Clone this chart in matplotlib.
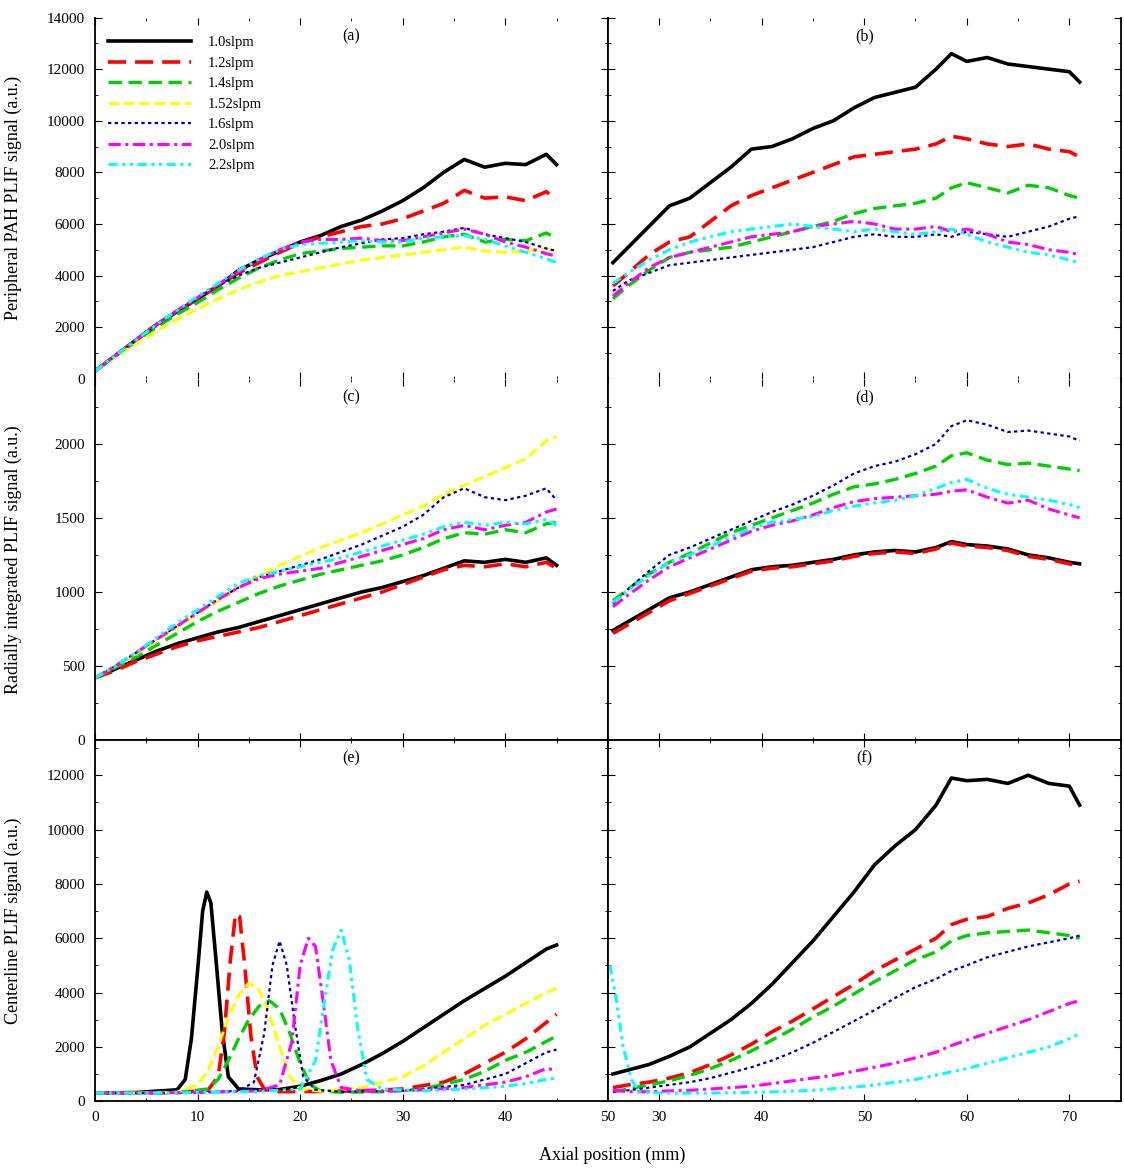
import matplotlib
matplotlib.use("Agg")
import matplotlib.pyplot as plt
from matplotlib.ticker import MultipleLocator

plt.rcParams['font.family'] = ['Liberation Serif', 'DejaVu Serif']

labels = ['1.0slpm', '1.2slpm', '1.4slpm', '1.52slpm', '1.6slpm', '2.0slpm', '2.2slpm']
colors = ['black', '#ff0000', '#00d000', '#ffff00', '#0000b0', '#ff00ff', '#00ffff']
styles = [dict(lw=2.6, ls='-'),
          dict(lw=2.6, ls=(0, (5, 2.5))),
          dict(lw=2.4, ls=(0, (4, 2))),
          dict(lw=2.2, ls=(0, (3.5, 1.5))),
          dict(lw=1.6, ls=(0, (1.5, 1.5))),
          dict(lw=2.2, ls=(0, (4, 1.5, 1, 1.5))),
          dict(lw=2.2, ls=(0, (3, 1.5, 1, 1.5, 1, 1.5)))]

# left column (0-45 mm) and right column (25-71 mm) positions
x_left = [0, 2, 4, 6, 8, 10, 12, 14, 16, 18, 20, 22, 24, 26, 28, 30, 32, 34, 36, 38, 40, 42, 44, 45]
x_right = [25.5, 27, 29, 31, 33, 35, 37, 39, 41, 43, 45, 47, 49, 51, 53, 55, 57, 58.5, 60, 62, 64, 66, 68, 70, 71]

# (a)
a_vals = [
    [300, 900, 1500, 2100, 2600, 3100, 3600, 4200, 4600, 4950, 5300, 5550, 5900, 6150, 6500, 6900, 7400, 8000, 8500, 8200, 8350, 8300, 8700, 8300],
    [300, 900, 1500, 2100, 2600, 3100, 3600, 4100, 4500, 4900, 5250, 5500, 5700, 5900, 6000, 6200, 6500, 6800, 7300, 7000, 7050, 6900, 7250, 6950],
    [300, 880, 1450, 2000, 2500, 2950, 3450, 3900, 4300, 4600, 4850, 4950, 5050, 5100, 5150, 5150, 5300, 5500, 5600, 5300, 5400, 5350, 5650, 5450],
    [300, 850, 1350, 1850, 2300, 2700, 3100, 3450, 3750, 4000, 4150, 4300, 4450, 4600, 4700, 4800, 4900, 5000, 5100, 4950, 4900, 4950, 5050, 4900],
    [300, 880, 1480, 2050, 2600, 3100, 3600, 4000, 4300, 4500, 4700, 4900, 5100, 5250, 5400, 5450, 5600, 5700, 5850, 5600, 5450, 5300, 5050, 4950],
    [300, 900, 1500, 2100, 2650, 3150, 3650, 4150, 4600, 5000, 5300, 5400, 5400, 5450, 5350, 5350, 5500, 5650, 5800, 5600, 5300, 5100, 4850, 4750],
    [300, 900, 1500, 2100, 2650, 3200, 3700, 4200, 4650, 5000, 5200, 5250, 5300, 5350, 5300, 5300, 5450, 5500, 5550, 5400, 5150, 4900, 4650, 4500],
]
# (b)
b_vals = [
    [4500, 5100, 5900, 6700, 7000, 7600, 8200, 8900, 9000, 9300, 9700, 10000, 10500, 10900, 11100, 11300, 12000, 12600, 12300, 12450, 12200, 12100, 12000, 11900, 11500],
    [3600, 4100, 4800, 5300, 5500, 6100, 6700, 7100, 7400, 7700, 8000, 8300, 8600, 8700, 8800, 8900, 9100, 9400, 9300, 9100, 9000, 9100, 8900, 8800, 8600],
    [3100, 3600, 4200, 4700, 4900, 5000, 5100, 5300, 5500, 5700, 5900, 6100, 6400, 6600, 6700, 6800, 7000, 7400, 7600, 7400, 7200, 7500, 7400, 7100, 7000],
    None,
    [3400, 3800, 4100, 4400, 4500, 4600, 4700, 4800, 4900, 5000, 5100, 5300, 5500, 5600, 5500, 5500, 5600, 5500, 5700, 5600, 5500, 5700, 5900, 6200, 6300],
    [3200, 3700, 4300, 4700, 4900, 5100, 5300, 5500, 5600, 5700, 5900, 6000, 6100, 6000, 5800, 5800, 5900, 5700, 5800, 5600, 5300, 5200, 5000, 4900, 4800],
    [3700, 4100, 4600, 5000, 5300, 5500, 5700, 5800, 5900, 6000, 5900, 5800, 5700, 5800, 5700, 5600, 5700, 5800, 5600, 5300, 5100, 4900, 4800, 4600, 4500],
]
# (c)
c_vals = [
    [420, 480, 540, 600, 650, 690, 730, 760, 800, 840, 880, 920, 960, 1000, 1030, 1070, 1110, 1160, 1210, 1200, 1220, 1200, 1230, 1180],
    [420, 470, 530, 580, 630, 670, 700, 730, 760, 800, 840, 880, 920, 960, 1000, 1050, 1100, 1150, 1180, 1170, 1190, 1170, 1200, 1160],
    [420, 490, 560, 640, 720, 800, 870, 930, 990, 1040, 1080, 1120, 1150, 1180, 1210, 1250, 1300, 1360, 1400, 1390, 1420, 1400, 1460, 1470],
    [420, 500, 580, 670, 760, 850, 940, 1030, 1110, 1180, 1240, 1300, 1350, 1400, 1460, 1520, 1580, 1660, 1720, 1780, 1840, 1900, 2020, 2050],
    [420, 500, 590, 680, 770, 860, 950, 1030, 1100, 1140, 1180, 1220, 1270, 1320, 1380, 1440, 1520, 1640, 1700, 1640, 1620, 1650, 1700, 1620],
    [420, 500, 590, 680, 770, 860, 950, 1030, 1090, 1120, 1140, 1160, 1200, 1240, 1280, 1320, 1360, 1420, 1450, 1420, 1450, 1470, 1540, 1560],
    [420, 500, 590, 690, 790, 880, 970, 1060, 1110, 1140, 1170, 1200, 1230, 1270, 1310, 1350, 1390, 1440, 1470, 1450, 1470, 1460, 1490, 1450],
]
# (d)
d_vals = [
    [740, 800, 880, 960, 1000, 1050, 1100, 1150, 1170, 1180, 1200, 1220, 1250, 1270, 1280, 1270, 1300, 1340, 1320, 1310, 1290, 1250, 1230, 1200, 1190],
    [720, 780, 860, 940, 990, 1040, 1090, 1140, 1160, 1170, 1190, 1210, 1240, 1260, 1270, 1260, 1290, 1330, 1310, 1300, 1280, 1240, 1220, 1190, 1170],
    [940, 1020, 1120, 1200, 1260, 1330, 1400, 1450, 1500, 1550, 1600, 1660, 1710, 1730, 1760, 1800, 1850, 1920, 1940, 1890, 1860, 1870, 1850, 1830, 1820],
    None,
    [920, 1020, 1140, 1250, 1300, 1360, 1420, 1480, 1540, 1590, 1650, 1720, 1800, 1850, 1880, 1930, 2000, 2120, 2160, 2130, 2080, 2090, 2070, 2050, 2020],
    [900, 980, 1080, 1170, 1230, 1290, 1350, 1410, 1450, 1480, 1520, 1570, 1610, 1630, 1640, 1650, 1660, 1680, 1690, 1640, 1600, 1620, 1560, 1520, 1500],
    [930, 1010, 1110, 1200, 1250, 1310, 1370, 1430, 1470, 1490, 1510, 1550, 1580, 1600, 1620, 1650, 1700, 1740, 1760, 1700, 1660, 1640, 1620, 1590, 1570],
]
# (e) centerline, each series with its own axial positions
e_x = [
    [0, 4, 8, 8.8, 9.4, 10, 10.5, 10.9, 11.3, 11.8, 12.4, 13, 14, 16, 18, 20, 22, 24, 26, 28, 30, 32, 34, 36, 38, 40, 42, 44, 45],
    [0, 4, 8, 11, 12, 12.6, 13.2, 13.7, 14.1, 14.6, 15.2, 15.8, 16.5, 18, 22, 26, 30, 34, 36, 38, 40, 42, 44, 45],
    [0, 4, 8, 11, 12, 13, 14, 15, 16, 17, 18, 19, 20, 21, 22, 24, 28, 32, 36, 38, 40, 42, 44, 45],
    [0, 4, 8, 10, 11, 12, 13, 14, 15, 16, 17, 18, 19, 20, 22, 26, 30, 32, 34, 36, 38, 40, 42, 44, 45],
    [0, 4, 10, 14, 15.5, 16.5, 17.3, 18, 18.7, 19.5, 20.3, 21.5, 24, 30, 36, 40, 42, 44, 45],
    [0, 4, 10, 16, 18, 19.2, 20, 20.8, 21.5, 22.2, 23, 24, 26, 30, 36, 40, 42, 44, 45],
    [0, 4, 10, 16, 20, 21.5, 22.5, 23.2, 24, 24.8, 25.6, 26.5, 28, 32, 36, 40, 42, 44, 45],
]
e_vals = [
    [300, 320, 420, 800, 2300, 4800, 7000, 7700, 7300, 5200, 2600, 900, 450, 420, 430, 550, 760, 1000, 1350, 1750, 2200, 2700, 3200, 3700, 4150, 4600, 5100, 5600, 5750],
    [300, 300, 320, 400, 900, 2500, 5200, 6900, 6800, 5000, 2400, 900, 450, 350, 360, 380, 450, 700, 1000, 1400, 1800, 2300, 2900, 3200],
    [300, 300, 320, 450, 800, 1500, 2300, 3000, 3500, 3700, 3400, 2500, 1400, 600, 380, 330, 350, 450, 800, 1100, 1500, 1800, 2200, 2400],
    [300, 300, 330, 600, 1100, 2000, 3100, 3900, 4350, 4100, 3200, 2000, 900, 450, 370, 500, 900, 1300, 1800, 2300, 2800, 3200, 3600, 4000, 4150],
    [300, 300, 320, 380, 700, 2500, 5000, 5900, 5000, 2800, 900, 420, 350, 380, 600, 1000, 1400, 1800, 1900],
    [300, 300, 320, 380, 600, 2200, 5000, 6000, 5700, 3800, 1500, 500, 380, 380, 500, 700, 900, 1200, 1150],
    [300, 300, 320, 360, 450, 1500, 4000, 5600, 6300, 5200, 2700, 800, 450, 380, 450, 550, 650, 800, 850],
]
# (f)
f_cyan_x = [25.2, 25.8, 26.5, 27.3, 28, 30, 35, 40, 45, 50, 55, 60, 62, 64, 66, 68, 70, 71]
f_vals = [
    [1000, 1150, 1350, 1650, 2000, 2500, 3000, 3600, 4300, 5100, 5900, 6800, 7700, 8700, 9400, 10000, 10900, 11900, 11800, 11850, 11700, 12000, 11700, 11600, 10900],
    [500, 600, 700, 850, 1050, 1350, 1700, 2100, 2550, 2950, 3400, 3850, 4300, 4800, 5200, 5600, 6000, 6500, 6700, 6800, 7100, 7300, 7600, 8000, 8100],
    [350, 450, 600, 750, 950, 1200, 1500, 1850, 2250, 2650, 3100, 3500, 3950, 4400, 4800, 5200, 5500, 5900, 6100, 6200, 6250, 6300, 6200, 6100, 6000],
    None,
    [350, 400, 500, 600, 700, 850, 1050, 1250, 1500, 1800, 2150, 2550, 2950, 3350, 3800, 4200, 4500, 4800, 5000, 5300, 5500, 5700, 5850, 6000, 6100],
    [400, 350, 350, 380, 400, 450, 500, 550, 650, 750, 850, 950, 1100, 1250, 1400, 1600, 1800, 2050, 2250, 2500, 2750, 3000, 3300, 3600, 3700],
    [5000, 3800, 2000, 800, 350, 300, 300, 330, 400, 550, 800, 1200, 1400, 1600, 1800, 2000, 2300, 2500],
]

fig, axes = plt.subplots(3, 2, figsize=(11.24, 11.69), dpi=100)
fig.subplots_adjust(left=0.0845, right=0.997, top=0.985, bottom=0.058, hspace=0, wspace=0)

panels = [
    (axes[0, 0], [x_left] * 7, a_vals, '(a)'),
    (axes[0, 1], [x_right] * 7, b_vals, '(b)'),
    (axes[1, 0], [x_left] * 7, c_vals, '(c)'),
    (axes[1, 1], [x_right] * 7, d_vals, '(d)'),
    (axes[2, 0], e_x, e_vals, '(e)'),
    (axes[2, 1], [x_right] * 6 + [f_cyan_x], f_vals, '(f)'),
]

for ax, xs, vals, tag in panels:
    for i in range(7):
        if vals[i] is None:
            continue
        ax.plot(xs[i], vals[i], color=colors[i], label=labels[i], **styles[i])
    ax.text(0.5, 0.97, tag, transform=ax.transAxes, ha='center', va='top', fontsize=11.5)
    ax.tick_params(which='both', direction='in', top=True, right=True, labelsize=11)
    ax.tick_params(which='major', length=5, pad=7)
    ax.tick_params(which='minor', length=2.5)

ylims = [(0, 14000), (0, 2440), (0, 13300)]
ymaj = [2000, 500, 2000]
ylabels = ['Peripheral PAH PLIF signal (a.u.)',
           'Radially integrated PLIF signal (a.u.)',
           'Centerline PLIF signal (a.u.)']
for r in range(3):
    for c in range(2):
        ax = axes[r, c]
        ax.set_ylim(*ylims[r])
        ax.yaxis.set_major_locator(MultipleLocator(ymaj[r]))
        ax.yaxis.set_minor_locator(MultipleLocator(ymaj[r] / 2))
        if c == 0:
            ax.set_xlim(0, 50)
            ax.set_xticks([0, 10, 20, 30, 40, 50])
            ax.set_ylabel(ylabels[r], fontsize=13)
            ax.yaxis.set_label_coords(-0.142, 0.5)
        else:
            ax.set_xlim(25, 75)
            ax.set_xticks([30, 40, 50, 60, 70])
            ax.tick_params(labelleft=False)
        ax.xaxis.set_minor_locator(MultipleLocator(5))
        if r < 2:
            ax.tick_params(labelbottom=False)

for c in range(2):
    axes[0, c].spines['top'].set_visible(False)
    axes[0, c].spines['bottom'].set_visible(False)
    axes[1, c].spines['top'].set_visible(False)

for ax in axes.flat:
    for s in ax.spines.values():
        s.set_linewidth(1.3)

axes[0, 0].legend(loc='upper left', bbox_to_anchor=(0.0, 0.985), frameon=False,
                  fontsize=10.5, handlelength=5.7, labelspacing=0.5, handletextpad=1.15)

fig.text(0.545, 0.004, 'Axial position (mm)', ha='center', va='bottom', fontsize=13)

plt.savefig('out.png', dpi=100)
